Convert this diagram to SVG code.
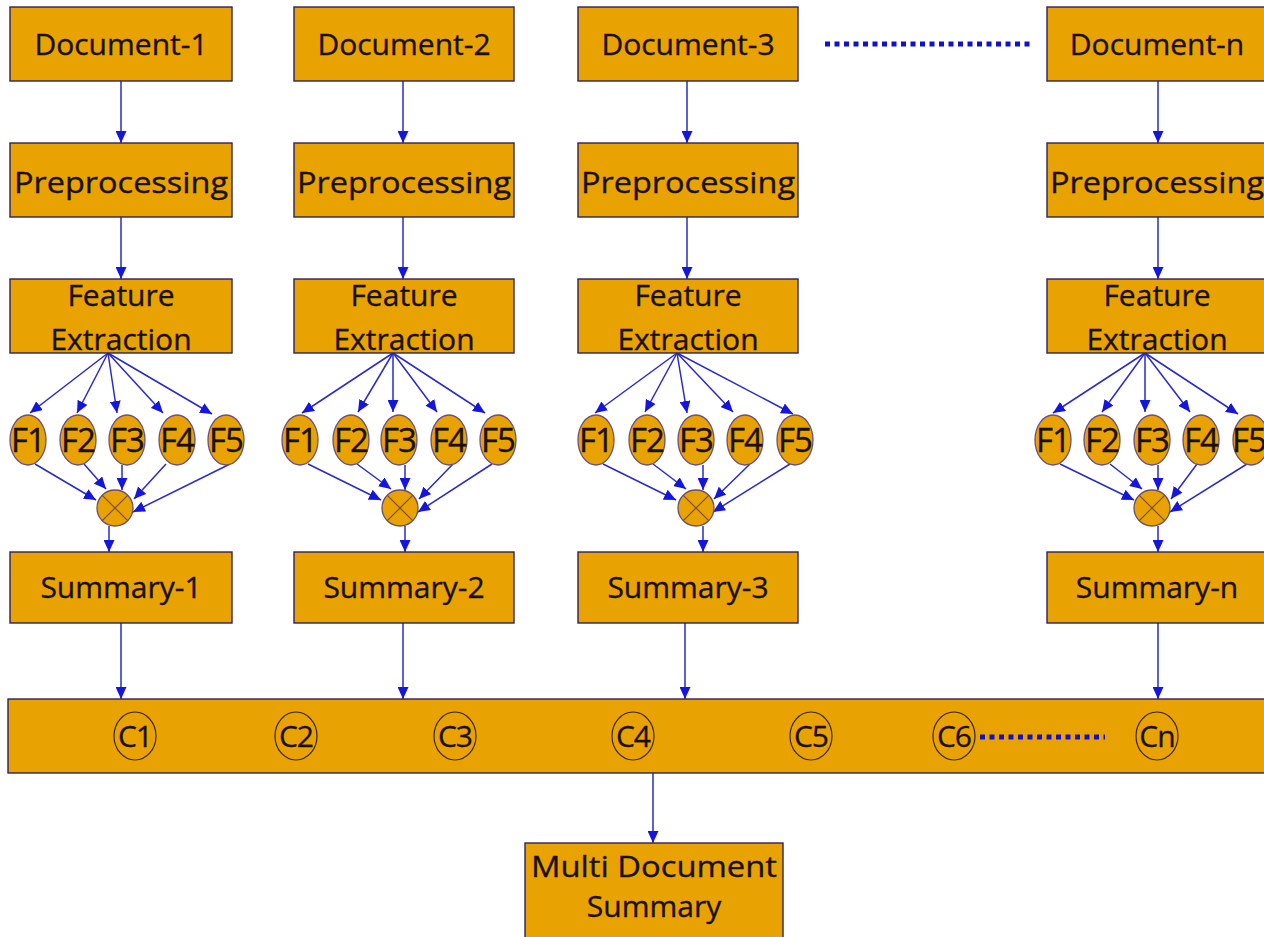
<svg xmlns="http://www.w3.org/2000/svg" width="1264" height="937" viewBox="0 0 1264 937">
  <style>
    .box { fill: #E8A202; stroke: #2e2358; stroke-width: 1.4; }
    .feat { fill: #E8A202; stroke: #6b4f86; stroke-width: 1.3; }
    .mix { fill: #E8A202; stroke: #6b4f6a; stroke-width: 1.3; }
    .cross { stroke: #7a4a2a; stroke-width: 1.2; }
    .clus { fill: none; stroke: #3a2414; stroke-width: 1.2; }
    .lbl { font-family: "Open Sans", "Liberation Sans", sans-serif; font-size: 30px; fill: #1a1000; stroke: #1a1000; stroke-width: 0.35; text-anchor: middle; }
    .fl { font-family: "Open Sans", "Liberation Sans", sans-serif; font-size: 33px; fill: #1a1000; stroke: #1a1000; stroke-width: 0.35; text-anchor: middle; letter-spacing: -1px; }
    .cl { font-family: "Open Sans", "Liberation Sans", sans-serif; font-size: 30px; fill: #1a1000; stroke: #1a1000; stroke-width: 0.3; text-anchor: middle; letter-spacing: -1px; }
    .edge { stroke: #2a2ac8; stroke-width: 1.5; fill: none; marker-end: url(#arrow); }
    .dots { stroke: #1010d0; stroke-width: 5; stroke-dasharray: 5 4.5; fill: none; }
  </style>
  <defs>
    <marker id="arrow" markerUnits="userSpaceOnUse" markerWidth="12" markerHeight="11" refX="12" refY="5.5" orient="auto">
      <path d="M0,0 L12,5.5 L0,11 z" fill="#1515e0"/>
    </marker>
  </defs>
  <rect width="1264" height="937" fill="#ffffff"/>

  <!-- connectors -->
  <g id="connectors">
    <!-- column 1 -->
    <line class="edge" x1="121" y1="81" x2="121" y2="143"/>
    <line class="edge" x1="121" y1="217" x2="121" y2="279"/>
    <line class="edge" x1="108" y1="353" x2="30" y2="413"/>
    <line class="edge" x1="108" y1="353" x2="77" y2="413"/>
    <line class="edge" x1="108" y1="353" x2="117" y2="413"/>
    <line class="edge" x1="108" y1="353" x2="163" y2="413"/>
    <line class="edge" x1="108" y1="353" x2="212" y2="414"/>
    <line class="edge" x1="35" y1="464" x2="96" y2="500"/>
    <line class="edge" x1="84" y1="464" x2="106" y2="489"/>
    <line class="edge" x1="122" y1="465" x2="122" y2="490"/>
    <line class="edge" x1="166" y1="464" x2="134" y2="499"/>
    <line class="edge" x1="230" y1="464" x2="133" y2="512"/>
    <line class="edge" x1="109" y1="526" x2="109" y2="552"/>
    <line class="edge" x1="121" y1="623" x2="121" y2="699"/>

    <!-- column 2 -->
    <line class="edge" x1="403" y1="81" x2="403" y2="143"/>
    <line class="edge" x1="403" y1="217" x2="403" y2="279"/>
    <line class="edge" x1="393" y1="353" x2="302" y2="413"/>
    <line class="edge" x1="393" y1="353" x2="358" y2="412"/>
    <line class="edge" x1="393" y1="353" x2="393" y2="412"/>
    <line class="edge" x1="393" y1="353" x2="437" y2="412"/>
    <line class="edge" x1="393" y1="353" x2="485" y2="413"/>
    <line class="edge" x1="308" y1="464" x2="381" y2="500"/>
    <line class="edge" x1="357" y1="464" x2="391" y2="489"/>
    <line class="edge" x1="405" y1="465" x2="405" y2="490"/>
    <line class="edge" x1="453" y1="464" x2="419" y2="499"/>
    <line class="edge" x1="492" y1="464" x2="418" y2="512"/>
    <line class="edge" x1="405" y1="526" x2="405" y2="552"/>
    <line class="edge" x1="403" y1="623" x2="403" y2="699"/>

    <!-- column 3 -->
    <line class="edge" x1="687" y1="81" x2="687" y2="143"/>
    <line class="edge" x1="687" y1="217" x2="687" y2="279"/>
    <line class="edge" x1="677" y1="353" x2="595" y2="413"/>
    <line class="edge" x1="677" y1="353" x2="645" y2="412"/>
    <line class="edge" x1="677" y1="353" x2="687" y2="413"/>
    <line class="edge" x1="677" y1="353" x2="733" y2="412"/>
    <line class="edge" x1="677" y1="353" x2="793" y2="414"/>
    <line class="edge" x1="603" y1="464" x2="676" y2="500"/>
    <line class="edge" x1="653" y1="464" x2="686" y2="489"/>
    <line class="edge" x1="703" y1="465" x2="703" y2="490"/>
    <line class="edge" x1="750" y1="464" x2="714" y2="499"/>
    <line class="edge" x1="790" y1="464" x2="713" y2="512"/>
    <line class="edge" x1="703" y1="526" x2="703" y2="552"/>
    <line class="edge" x1="685" y1="623" x2="685" y2="699"/>

    <!-- column n -->
    <line class="edge" x1="1158" y1="81" x2="1158" y2="143"/>
    <line class="edge" x1="1158" y1="217" x2="1158" y2="279"/>
    <line class="edge" x1="1145" y1="353" x2="1053" y2="413"/>
    <line class="edge" x1="1145" y1="353" x2="1102" y2="412"/>
    <line class="edge" x1="1145" y1="353" x2="1145" y2="412"/>
    <line class="edge" x1="1145" y1="353" x2="1190" y2="412"/>
    <line class="edge" x1="1145" y1="353" x2="1238" y2="414"/>
    <line class="edge" x1="1060" y1="464" x2="1134" y2="500"/>
    <line class="edge" x1="1110" y1="464" x2="1142" y2="489"/>
    <line class="edge" x1="1158" y1="465" x2="1158" y2="490"/>
    <line class="edge" x1="1197" y1="464" x2="1171" y2="499"/>
    <line class="edge" x1="1247" y1="464" x2="1170" y2="512"/>
    <line class="edge" x1="1158" y1="526" x2="1158" y2="552"/>
    <line class="edge" x1="1158" y1="623" x2="1158" y2="699"/>

    <!-- combined summaries to final output -->
    <line class="edge" x1="653" y1="773" x2="653" y2="843"/>

    <!-- ellipsis between documents -->
    <line class="dots" x1="825" y1="44" x2="1030" y2="44"/>
  </g>

  <!-- column 1 nodes -->
  <g id="doc1"><rect class="box" x="10" y="7" width="222" height="74"/><text class="lbl" x="121" y="55">Document-1</text></g>
  <g id="pre1"><rect class="box" x="10" y="143" width="222" height="74"/><text class="lbl" x="121" y="193" textLength="214" lengthAdjust="spacingAndGlyphs">Preprocessing</text></g>
  <g id="fe1"><rect class="box" x="10" y="279" width="222" height="74"/><text class="lbl" x="121" y="306">Feature</text><text class="lbl" x="121" y="350">Extraction</text></g>
  <g id="f1-1"><ellipse class="feat" cx="28" cy="440" rx="18" ry="25"/><text class="fl" x="28" y="452">F1</text></g>
  <g id="f1-2"><ellipse class="feat" cx="78" cy="440" rx="18" ry="25"/><text class="fl" x="78" y="452">F2</text></g>
  <g id="f1-3"><ellipse class="feat" cx="127" cy="440" rx="18" ry="25"/><text class="fl" x="127" y="452">F3</text></g>
  <g id="f1-4"><ellipse class="feat" cx="177" cy="440" rx="18" ry="25"/><text class="fl" x="177" y="452">F4</text></g>
  <g id="f1-5"><ellipse class="feat" cx="226" cy="440" rx="18" ry="25"/><text class="fl" x="226" y="452">F5</text></g>
  <g id="mix1"><circle class="mix" cx="115" cy="508" r="18"/><path class="cross" d="M102.3,495.3 L127.7,520.7 M127.7,495.3 L102.3,520.7"/></g>
  <g id="sum1"><rect class="box" x="10" y="552" width="222" height="71"/><text class="lbl" x="121" y="598">Summary-1</text></g>

  <!-- column 2 nodes -->
  <g id="doc2"><rect class="box" x="294" y="7" width="220" height="74"/><text class="lbl" x="404" y="55">Document-2</text></g>
  <g id="pre2"><rect class="box" x="294" y="143" width="220" height="74"/><text class="lbl" x="404" y="193" textLength="214" lengthAdjust="spacingAndGlyphs">Preprocessing</text></g>
  <g id="fe2"><rect class="box" x="294" y="279" width="220" height="74"/><text class="lbl" x="404" y="306">Feature</text><text class="lbl" x="404" y="350">Extraction</text></g>
  <g id="f2-1"><ellipse class="feat" cx="300" cy="440" rx="18" ry="25"/><text class="fl" x="300" y="452">F1</text></g>
  <g id="f2-2"><ellipse class="feat" cx="351" cy="440" rx="18" ry="25"/><text class="fl" x="351" y="452">F2</text></g>
  <g id="f2-3"><ellipse class="feat" cx="399" cy="440" rx="18" ry="25"/><text class="fl" x="399" y="452">F3</text></g>
  <g id="f2-4"><ellipse class="feat" cx="449" cy="440" rx="18" ry="25"/><text class="fl" x="449" y="452">F4</text></g>
  <g id="f2-5"><ellipse class="feat" cx="498" cy="440" rx="18" ry="25"/><text class="fl" x="498" y="452">F5</text></g>
  <g id="mix2"><circle class="mix" cx="400" cy="508" r="18"/><path class="cross" d="M387.3,495.3 L412.7,520.7 M412.7,495.3 L387.3,520.7"/></g>
  <g id="sum2"><rect class="box" x="294" y="552" width="220" height="71"/><text class="lbl" x="404" y="598">Summary-2</text></g>

  <!-- column 3 nodes -->
  <g id="doc3"><rect class="box" x="578" y="7" width="220" height="74"/><text class="lbl" x="688" y="55">Document-3</text></g>
  <g id="pre3"><rect class="box" x="578" y="143" width="220" height="74"/><text class="lbl" x="688" y="193" textLength="214" lengthAdjust="spacingAndGlyphs">Preprocessing</text></g>
  <g id="fe3"><rect class="box" x="578" y="279" width="220" height="74"/><text class="lbl" x="688" y="306">Feature</text><text class="lbl" x="688" y="350">Extraction</text></g>
  <g id="f3-1"><ellipse class="feat" cx="596" cy="440" rx="18" ry="25"/><text class="fl" x="596" y="452">F1</text></g>
  <g id="f3-2"><ellipse class="feat" cx="647" cy="440" rx="18" ry="25"/><text class="fl" x="647" y="452">F2</text></g>
  <g id="f3-3"><ellipse class="feat" cx="696" cy="440" rx="18" ry="25"/><text class="fl" x="696" y="452">F3</text></g>
  <g id="f3-4"><ellipse class="feat" cx="745" cy="440" rx="18" ry="25"/><text class="fl" x="745" y="452">F4</text></g>
  <g id="f3-5"><ellipse class="feat" cx="795" cy="440" rx="18" ry="25"/><text class="fl" x="795" y="452">F5</text></g>
  <g id="mix3"><circle class="mix" cx="696" cy="508" r="18"/><path class="cross" d="M683.3,495.3 L708.7,520.7 M708.7,495.3 L683.3,520.7"/></g>
  <g id="sum3"><rect class="box" x="578" y="552" width="220" height="71"/><text class="lbl" x="688" y="598">Summary-3</text></g>

  <!-- column n nodes -->
  <g id="docn"><rect class="box" x="1047" y="7" width="230" height="74"/><text class="lbl" x="1157" y="55">Document-n</text></g>
  <g id="pren"><rect class="box" x="1047" y="143" width="230" height="74"/><text class="lbl" x="1157" y="193" textLength="214" lengthAdjust="spacingAndGlyphs">Preprocessing</text></g>
  <g id="fen"><rect class="box" x="1047" y="279" width="230" height="74"/><text class="lbl" x="1157" y="306">Feature</text><text class="lbl" x="1157" y="350">Extraction</text></g>
  <g id="fn-1"><ellipse class="feat" cx="1053" cy="440" rx="18" ry="25"/><text class="fl" x="1053" y="452">F1</text></g>
  <g id="fn-2"><ellipse class="feat" cx="1102" cy="440" rx="18" ry="25"/><text class="fl" x="1102" y="452">F2</text></g>
  <g id="fn-3"><ellipse class="feat" cx="1152" cy="440" rx="18" ry="25"/><text class="fl" x="1152" y="452">F3</text></g>
  <g id="fn-4"><ellipse class="feat" cx="1201" cy="440" rx="18" ry="25"/><text class="fl" x="1201" y="452">F4</text></g>
  <g id="fn-5"><ellipse class="feat" cx="1251" cy="440" rx="18" ry="25"/><text class="fl" x="1249" y="452">F5</text></g>
  <g id="mixn"><circle class="mix" cx="1152" cy="508" r="18"/><path class="cross" d="M1139.3,495.3 L1164.7,520.7 M1164.7,495.3 L1139.3,520.7"/></g>
  <g id="sumn"><rect class="box" x="1047" y="552" width="230" height="71"/><text class="lbl" x="1157" y="598">Summary-n</text></g>

  <!-- cluster bar -->
  <g id="clusters">
    <rect class="box" x="8" y="699" width="1270" height="74"/>
    <ellipse class="clus" cx="135" cy="736" rx="21" ry="24"/><text class="cl" x="135" y="747">C1</text>
    <ellipse class="clus" cx="296" cy="736" rx="21" ry="24"/><text class="cl" x="296" y="747">C2</text>
    <ellipse class="clus" cx="455" cy="736" rx="21" ry="24"/><text class="cl" x="455" y="747">C3</text>
    <ellipse class="clus" cx="633" cy="736" rx="21" ry="24"/><text class="cl" x="633" y="747">C4</text>
    <ellipse class="clus" cx="811" cy="736" rx="21" ry="24"/><text class="cl" x="811" y="747">C5</text>
    <ellipse class="clus" cx="954" cy="736" rx="21" ry="24"/><text class="cl" x="954" y="747">C6</text>
    <ellipse class="clus" cx="1157" cy="736" rx="21" ry="24"/><text class="cl" x="1157" y="747">Cn</text>
    <!-- ellipsis between clusters -->
    <line class="dots" x1="980" y1="737" x2="1105" y2="737"/>
  </g>

  <!-- final output -->
  <g id="multi">
    <rect class="box" x="525" y="843" width="258" height="100"/>
    <text class="lbl" x="654" y="877" textLength="246" lengthAdjust="spacingAndGlyphs">Multi Document</text>
    <text class="lbl" x="654" y="917">Summary</text>
  </g>
</svg>
